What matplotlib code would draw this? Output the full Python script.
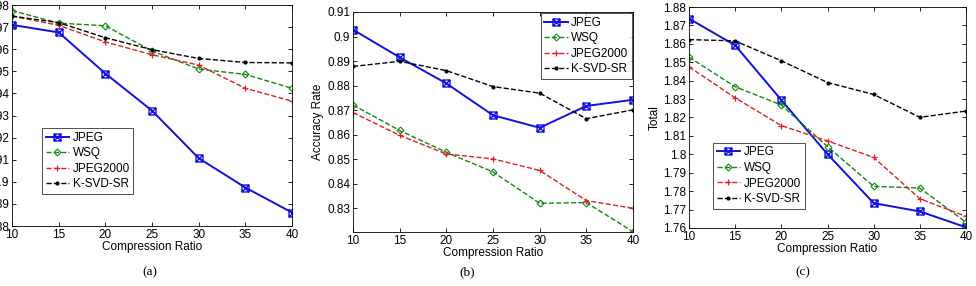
import matplotlib
matplotlib.use("Agg")
import matplotlib.pyplot as plt
from matplotlib.path import Path

plt.rcParams['font.family'] = ['Liberation Sans', 'DejaVu Sans']

ratios = [10, 15, 20, 25, 30, 35, 40]

# (a)
a_jpeg = [0.9710, 0.9676, 0.9490, 0.9322, 0.9107, 0.8974, 0.8861]
a_wsq = [0.9775, 0.9718, 0.9706, 0.9592, 0.9510, 0.9486, 0.9423]
a_j2k = [0.9750, 0.9708, 0.9633, 0.9575, 0.9528, 0.9423, 0.9365]
a_ksvd = [0.9750, 0.9720, 0.9652, 0.9598, 0.9558, 0.9540, 0.9538]

# (b)
b_jpeg = [0.9028, 0.8915, 0.8809, 0.8679, 0.8628, 0.8717, 0.8742]
b_wsq = [0.8721, 0.8617, 0.8528, 0.8448, 0.8320, 0.8323, 0.8204]
b_j2k = [0.8690, 0.8597, 0.8521, 0.8501, 0.8454, 0.8331, 0.8300]
b_ksvd = [0.8878, 0.8899, 0.8861, 0.8796, 0.8769, 0.8665, 0.8701]

# (c)
c_jpeg = [1.8737, 1.8592, 1.8295, 1.8001, 1.7735, 1.7690, 1.7604]
c_wsq = [1.8528, 1.8367, 1.8268, 1.8042, 1.7826, 1.7817, 1.7631]
c_j2k = [1.8475, 1.8307, 1.8156, 1.8073, 1.7983, 1.7759, 1.7663]
c_ksvd = [1.8623, 1.8616, 1.8508, 1.8390, 1.8325, 1.8201, 1.8235]

names = ['JPEG', 'WSQ', 'JPEG2000', 'K-SVD-SR']

# square with a cross inside (matlab-ish)
boxx = Path([(-1, -1), (1, -1), (1, 1), (-1, 1), (-1, -1),
             (-1, -1), (1, 1), (-1, 1), (1, -1)],
            [Path.MOVETO, Path.LINETO, Path.LINETO, Path.LINETO, Path.CLOSEPOLY,
             Path.MOVETO, Path.LINETO, Path.MOVETO, Path.LINETO])


def fmt(v):
    s = ('%.2f' % v).rstrip('0').rstrip('.')
    return s


def draw(ax, series, ylim, yticks, leg_loc, ylabel=None):
    jpeg, wsq, j2k, ksvd = series
    ax.plot(ratios, jpeg, color='#1010e0', lw=1.4, marker=boxx, ms=5,
            mfc='none', mew=1.0, label=names[0])
    ax.plot(ratios, wsq, color='#108a10', lw=1.0, ls='--', marker='D', ms=3.5,
            mfc='none', mew=0.8, label=names[1])
    ax.plot(ratios, j2k, color='#e02020', lw=1.0, ls='--', marker='+', ms=5,
            mew=0.9, label=names[2])
    ax.plot(ratios, ksvd, color='black', lw=1.0, ls='--', marker='.', ms=4,
            label=names[3])
    ax.set_xlim(10, 40)
    ax.set_ylim(*ylim)
    ax.set_xticks(ratios)
    ax.set_yticks(yticks)
    ax.set_yticklabels([fmt(v) for v in yticks])
    ax.tick_params(direction='in', top=True, right=True, labelsize=8.5,
                   length=3, width=0.6, pad=2)
    for sp in ax.spines.values():
        sp.set_linewidth(0.6)
    ax.set_xlabel('Compression Ratio', fontsize=8.5, labelpad=0)
    if ylabel:
        ax.set_ylabel(ylabel, fontsize=8.5, labelpad=2)
    leg = ax.legend(loc='upper left', bbox_to_anchor=leg_loc, fontsize=8.5,
                    frameon=True, fancybox=False, borderpad=0.3,
                    labelspacing=0.3, handlelength=2.0, handletextpad=0.3,
                    borderaxespad=0)
    leg.get_frame().set_edgecolor('black')
    leg.get_frame().set_linewidth(0.6)


W, H = 976, 286
fig = plt.figure(figsize=(W / 100, H / 100), dpi=100)


def box(l, r, t, b):
    return [l / W, 1 - b / H, (r - l) / W, (b - t) / H]


ax1 = fig.add_axes(box(12, 292, 5, 226))
ax2 = fig.add_axes(box(353, 633, 12, 232))
ax3 = fig.add_axes(box(689, 966, 7, 228))

draw(ax1, (a_jpeg, a_wsq, a_j2k, a_ksvd), (0.88, 0.98),
     [0.88, 0.89, 0.90, 0.91, 0.92, 0.93, 0.94, 0.95, 0.96, 0.97, 0.98],
     (0.107, 0.443))
draw(ax2, (b_jpeg, b_wsq, b_j2k, b_ksvd), (0.8203, 0.91),
     [0.83, 0.84, 0.85, 0.86, 0.87, 0.88, 0.89, 0.90, 0.91],
     (0.67, 0.995), ylabel='Accuracy Rate')
draw(ax3, (c_jpeg, c_wsq, c_j2k, c_ksvd), (1.76, 1.88),
     [1.76, 1.77, 1.78, 1.79, 1.80, 1.81, 1.82, 1.83, 1.84, 1.85, 1.86, 1.87, 1.88],
     (0.087, 0.385), ylabel='Total')

for lab, x in [('(a)', 150), ('(b)', 467), ('(c)', 803)]:
    fig.text(x / W, 1 - 272 / H, lab, ha='center', va='center',
             fontsize=9.5, family='Liberation Serif')

fig.savefig('out.png', dpi=100)
